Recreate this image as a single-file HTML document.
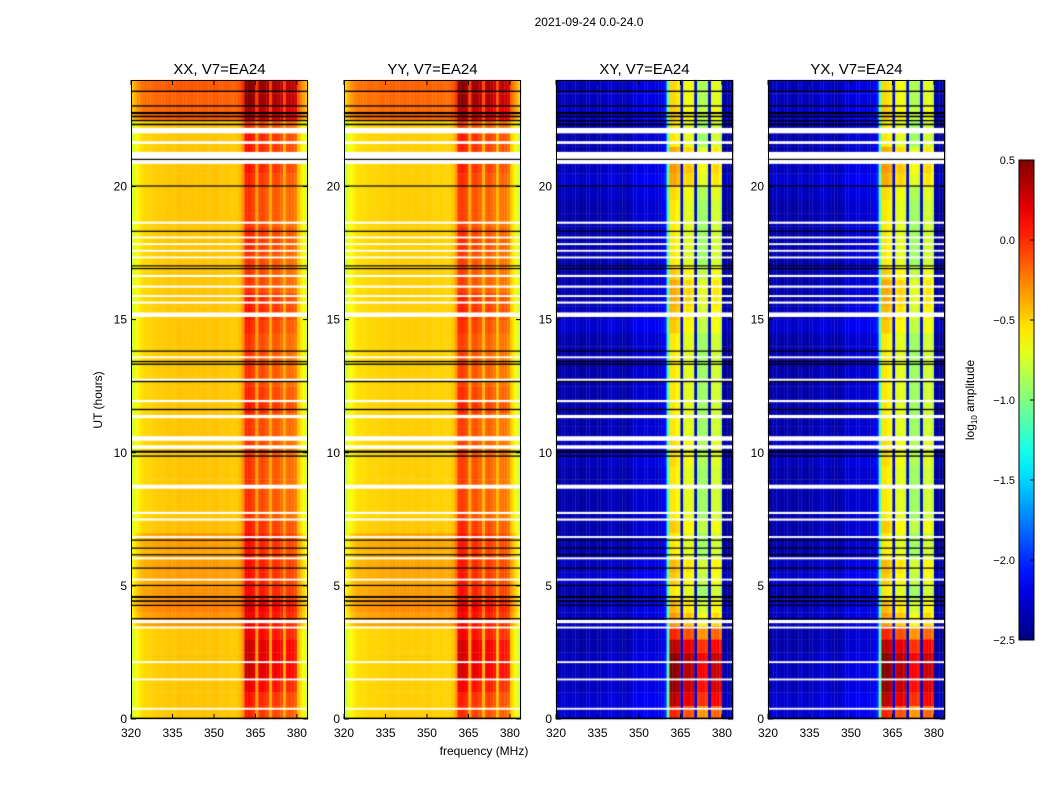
<!DOCTYPE html>
<html><head><meta charset="utf-8"><style>
body{margin:0;background:#fff;}
#wrap{position:relative;width:1050px;height:800px;font-family:"Liberation Sans",sans-serif;}
canvas{position:absolute;}
svg{position:absolute;left:0;top:0;}
</style></head><body>
<div id="wrap">
<svg id="ov" width="1050" height="800"></svg>
</div>
<script>
// ---- data ----
const panelTitles = ["XX, V7=EA24","YY, V7=EA24","XY, V7=EA24","YX, V7=EA24"];
const panelKind = ["auto","auto","cross","cross"];
const xTicks = [320,335,350,365,380];
const yTicks = [0,5,10,15,20];
const cbTicks = [0.5,0.0,-0.5,-1.0,-1.5,-2.0,-2.5];
// channel profiles, 1 MHz channels from 320 MHz (log10 amplitude)
const autoProfile = [-0.78,-0.68,-0.6,-0.55,-0.52,-0.5,-0.5,-0.49,-0.48,-0.48,-0.47,-0.47,-0.47,-0.46,-0.46,-0.46,-0.45,-0.45,-0.45,-0.45,-0.45,-0.45,-0.45,-0.45,-0.45,-0.45,-0.45,-0.45,-0.45,-0.45,-0.45,-0.45,-0.46,-0.46,-0.46,-0.46,-0.47,-0.47,-0.46,-0.42,
 -0.3,-0.02,0.0,-0.05,-0.08,-0.35, -0.1,-0.08,-0.12,-0.15,-0.38, -0.15,-0.12,-0.15,-0.2,-0.4, -0.2,-0.18,-0.2,-0.25,-0.45,-0.55,-0.65,-0.75];
const crossProfile = [-2.4,-2.38,-2.35,-2.35,-2.38,-2.38,-2.35,-2.35,-2.4,-2.4,-2.38,-2.35,-2.35,-2.38,-2.38,-2.38,-2.35,-2.35,-2.33,-2.3,-2.3,-2.33,-2.35,-2.38,-2.38,-2.38,-2.35,-2.3,-2.28,-2.25,-2.25,-2.25,-2.25,-2.25,-2.25,-2.28,-2.28,-2.25,-2.2,-2.1,
 -1.2,-0.55,-0.55,-0.6,-0.65,-2.3, -0.75,-0.7,-0.7,-0.75,-2.35, -0.95,-0.9,-0.9,-0.95,-2.35, -0.8,-0.75,-0.75,-0.85,-2.4,-2.42,-2.42,-2.42];
// half-hour rows (48): background offset and band boost
const autoOffset = [0,0,0,0,0,0,0,0.15,0.2,0.15,0.12,0.12,0.1,0.12,0.02,0,0,0,0,0,0,0,0,0,0,0,0,0,0,0,0,0,0,0,0,0,0,0,0,0,0,0,0,0,0,0.3,0.3,0.32];
const autoBandBoost = [0.05,0.1,0.2,0.3,0.3,0.3,0.2,0.05,0.05,0,0,0,0,0,0.05,0,0,0,0,0,0,0,0,0.1,0.05,0,0,0,0,0.05,0.1,0.1,0,0,0,0.05,0.05,0,0,0,0.05,0.1,0.1,0.1,0,0.1,0.2,0.2];
const crossOffset = [0.1,0.1,0.05,0.05,0.05,0,0,0.05,0.05,0,0.1,0.05,0,0,0,0,0,0,0,0.05,0.05,0,0,0,0,0,0,0,0,0.1,0.05,0,0,0,0,0,0,0,0,0.05,0.1,0.05,0,0,0,0.1,0.05,0.05];
const crossBandBoost = [0.5,0.8,0.95,1.0,1.0,0.9,0.6,0.2,0.1,0,0,0.1,0,0,0.1,0,0,0,0,0,0,0,0,0,0,0,0,0,0,0,0.1,0.2,0.2,0.1,0,0,0,0,0,0,0.1,0.2,0.2,0,0,0,0,0];
// flagged time ranges (hours)
const whiteFlagStart = [22.0,20.85,18.6,18.05,17.8,17.55,17.3,16.6,16.2,15.85,15.6,15.1,13.55,12.7,11.9,11.3,10.45,10.15,8.65,7.7,7.45,6.8,6.0,5.2,3.6,3.4,2.1,1.45,0.35,21.6];
const whiteFlagEnd   = [22.2,21.3,18.68,18.12,17.87,17.62,17.37,16.68,16.28,15.92,15.68,15.27,13.62,12.78,11.98,11.42,10.62,10.28,8.8,7.78,7.53,6.87,6.07,5.27,3.72,3.47,2.17,1.52,0.42,21.7];
const blackFlagStart = [22.3,22.45,22.6,22.72,23.0,23.55,13.3,13.4,12.65,11.6,10.0,9.85,6.7,6.4,6.15,5.65,5.0,4.55,4.4,4.25,3.75,0.0,21.0,20.0,18.3,17.0,16.9,13.8];
const blackFlagEnd   = [22.36,22.5,22.66,22.8,23.05,23.6,13.35,13.45,12.7,11.65,10.08,9.9,6.74,6.44,6.19,5.69,5.04,4.62,4.46,4.29,3.79,0.05,21.04,20.04,18.34,17.04,16.94,13.84];

// ---- layout ----
const panelLeft = [131,344,556,768];
const PW = 177, PT = 80, PB = 719;
const fMin = 320, fMax = 384;
const hMin = 0, hMax = 24;
const cbMin = -2.5, cbMax = 0.5;
function xs(f,p){return panelLeft[p] + (f-fMin)/(fMax-fMin)*PW;}
function ys(h){return PB - (h-hMin)/(hMax-hMin)*(PB-PT);}
function clamp(v){return Math.max(0,Math.min(1,v));}
function jet(v){const t=clamp((v-cbMin)/(cbMax-cbMin));
 const r=clamp(1.5-Math.abs(4*t-3)),g=clamp(1.5-Math.abs(4*t-2)),b=clamp(1.5-Math.abs(4*t-1));
 return `rgb(${Math.round(r*255)},${Math.round(g*255)},${Math.round(b*255)})`;}
const wrap=document.getElementById('wrap');
const NS="http://www.w3.org/2000/svg";
const ov=document.getElementById('ov');
function st(tag,attrs,txt){const e=document.createElementNS(NS,tag);for(const k in attrs)e.setAttribute(k,attrs[k]);if(txt!==undefined)e.textContent=txt;ov.appendChild(e);return e;}

for(let p=0;p<4;p++){
 const cv=document.createElement('canvas');
 cv.width=1050;cv.height=800;cv.style.left='0px';cv.style.top='0px';
 
 
 wrap.insertBefore(cv,ov);
 const ctx=cv.getContext('2d');
 const auto=panelKind[p]==='auto';
 const prof=auto?autoProfile:crossProfile;
 const off=auto?autoOffset:crossOffset;
 const boost=auto?autoBandBoost:crossBandBoost;
 const yyShift = (p===1)?-0.03:0;
 for(let r=0;r<off.length;r++){
  const h0=r*0.5,h1=h0+0.5;
  for(let c=0;c<prof.length;c++){
   const inBand=(c>=41&&c<=59&&(c%5)!==0);
   const v=prof[c]+off[r]+(inBand?boost[r]:0)+yyShift;
   ctx.fillStyle=jet(v);
   const x0=xs(fMin+c,p),x1=xs(fMin+c+1,p);
   ctx.fillRect(x0,ys(h1),x1-x0+0.3,ys(h0)-ys(h1)+0.3);
  }
 }
 ctx.fillStyle='#fff';
 for(let i=0;i<whiteFlagStart.length;i++){
  ctx.fillRect(panelLeft[p],ys(whiteFlagEnd[i]),PW,Math.max(1.5,ys(whiteFlagStart[i])-ys(whiteFlagEnd[i])));
 }
 ctx.fillStyle='#000';
 for(let i=0;i<blackFlagStart.length;i++){
  ctx.fillRect(panelLeft[p],ys(blackFlagEnd[i]),PW,Math.max(1.2,ys(blackFlagStart[i])-ys(blackFlagEnd[i])));
 }
 const fr=st('rect',{x:panelLeft[p]+0.5,y:PT+0.5,width:PW-1,height:PB-PT-1,fill:'none',stroke:'#000','stroke-width':1});
 
 
 const tt=st('text',{x:panelLeft[p]+PW/2,y:74,'text-anchor':'middle','font-size':15},panelTitles[p]);
 
 
 for(const f of xTicks){
  const x=xs(f,p);
  st('line',{x1:x,x2:x,y1:PB,y2:PB-5,stroke:'#000'});
  st('line',{x1:x,x2:x,y1:PT,y2:PT+5,stroke:'#000'});
  const t=st('text',{x:x,y:PB+18,'text-anchor':'middle','font-size':12},String(f));
  
  
 }
 for(const h of yTicks){
  const y=ys(h);
  st('line',{x1:panelLeft[p],x2:panelLeft[p]+5,y1:y,y2:y,stroke:'#000'});
  st('line',{x1:panelLeft[p]+PW,x2:panelLeft[p]+PW-5,y1:y,y2:y,stroke:'#000'});
  const t=st('text',{x:panelLeft[p]-4,y:y+4,'text-anchor':'end','font-size':12},String(h));
  
  
 }
}
const title=st('text',{x:589,y:26,'text-anchor':'middle','font-size':12},'2021-09-24 0.0-24.0');


const xl=st('text',{x:484,y:755,'text-anchor':'middle','font-size':12},'frequency (MHz)');


const yl=st('text',{x:0,y:0,'text-anchor':'middle','font-size':12,transform:'translate(102,400) rotate(-90)'},'UT (hours)');


const CBX=1019,CBW=15,CBT=160,CBB=640;
const defs=st('defs',{});
const lg=document.createElementNS(NS,'linearGradient');
lg.setAttribute('id','jetg');lg.setAttribute('x1','0');lg.setAttribute('y1','1');lg.setAttribute('x2','0');lg.setAttribute('y2','0');
defs.appendChild(lg);
for(let i=0;i<=20;i++){const s=document.createElementNS(NS,'stop');s.setAttribute('offset',i/20);s.setAttribute('stop-color',jet(cbMin+(cbMax-cbMin)*i/20));lg.appendChild(s);}
const cb=st('rect',{x:CBX,y:CBT,width:CBW,height:CBB-CBT,fill:'url(#jetg)',stroke:'#000','stroke-width':1});


function cby(v){return CBB-(v-cbMin)/(cbMax-cbMin)*(CBB-CBT);}
for(const v of cbTicks){
 const y=cby(v);
 st('line',{x1:CBX+CBW-4,x2:CBX+CBW,y1:y,y2:y,stroke:'#000'});
 const t=st('text',{x:CBX-4,y:y+4,'text-anchor':'end','font-size':11},(v<0?'\u2212':'')+Math.abs(v).toFixed(1));
 
 
}
const cl=st('text',{x:0,y:0,'text-anchor':'middle','font-size':12,transform:'translate(974,400) rotate(-90)'});


cl.innerHTML='log<tspan font-size="8" dy="3">10</tspan><tspan dy="-3"> amplitude</tspan>';
</script>
</body></html>
